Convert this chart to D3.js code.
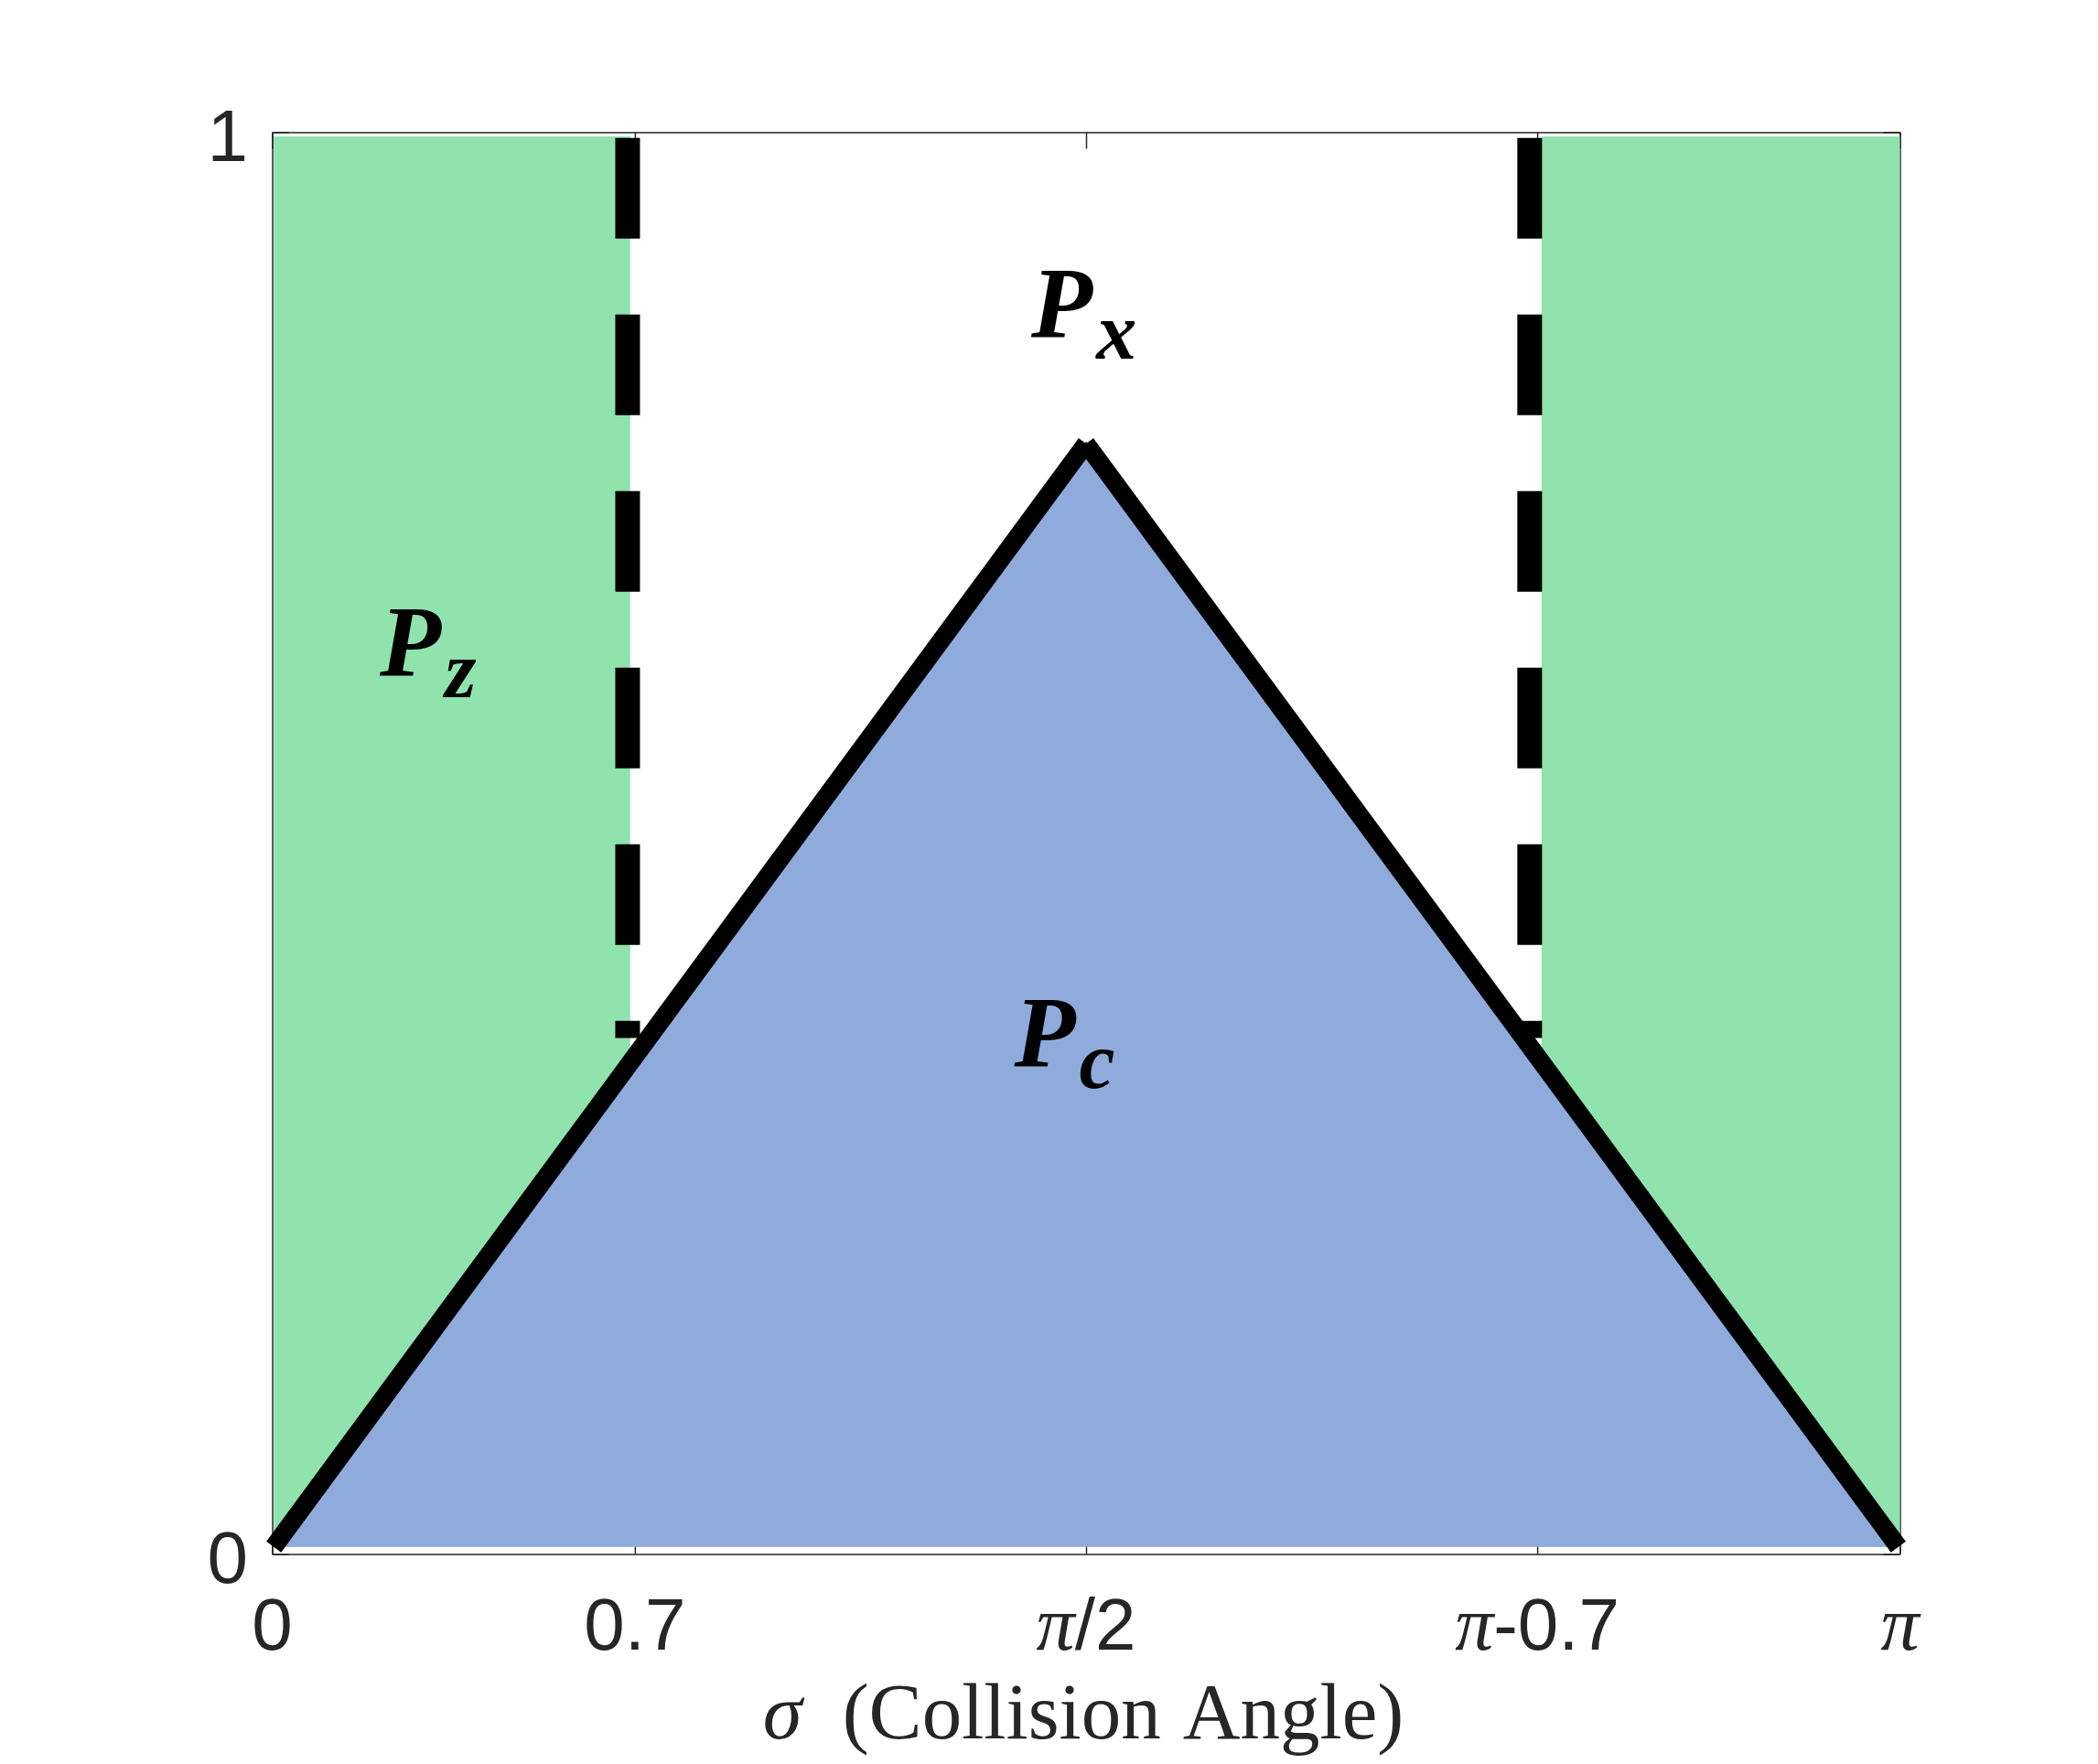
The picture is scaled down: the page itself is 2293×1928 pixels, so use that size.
<!DOCTYPE html>
<html><head><meta charset="utf-8">
<script src="https://cdn.jsdelivr.net/npm/d3@7"></script>
<style>body{margin:0;background:#fff} svg{display:block}</style>
</head><body>
<script>
const PI = Math.PI;
// ---- data ----
const xTickValues = [0, 0.7, PI / 2, PI - 0.7, PI];
const xTickLabels = ["0", "0.7", "π/2", "π-0.7", "π"];
const yTickValues = [0, 1];
const yTickLabels = ["0", "1"];
// triangle boundary (P_c region)
const triangleSigma = [0.003, PI / 2, PI - 0.003];
const triangleP = [0.005, 0.781, 0.005];
// green zones (P_z)
const zoneStart = [0.003, 2.450];
const zoneEnd = [0.691, PI];
const zoneBottom = [0.005, 0.005];
const zoneTop = [0.997, 0.997];
// dashed boundaries
const boundarySigma = [0.686, 2.427];
const boundaryTop = [0.996, 0.996];
const boundaryBottom = [0.363, 0.363];
// region labels
const regionMain = ["P", "P", "P"];
const regionSub = ["x", "z", "c"];
const regionSigma = [1.465, 0.2075, 1.432];
const regionP = [0.856, 0.618, 0.343];

// ---- chart ----
const W = 2293, H = 1928;
const svg = d3.select("body").append("svg").attr("width", W).attr("height", H);
svg.append("rect").attr("width", W).attr("height", H).attr("fill", "#fff");

const x = d3.scaleLinear().domain([0, PI]).range([297.5, 2076.5]);
const y = d3.scaleLinear().domain([0, 1]).range([1698.5, 144.5]);
const axisColor = "#262626";
const tickLen = 18;

// axes (drawn below data, like MATLAB Layer='bottom')
const axG = svg.append("g");
const bottomAxis = d3.axisBottom(x).tickValues(xTickValues).tickSizeInner(-tickLen).tickSizeOuter(0).tickFormat("");
const topAxis = d3.axisTop(x).tickValues(xTickValues).tickSizeInner(-tickLen).tickSizeOuter(0).tickFormat("");
const leftAxis = d3.axisLeft(y).tickValues(yTickValues).tickSizeInner(-tickLen).tickSizeOuter(0).tickFormat("");
const rightAxis = d3.axisRight(y).tickValues(yTickValues).tickSizeInner(-tickLen).tickSizeOuter(0).tickFormat("");
axG.append("g").attr("transform", `translate(0,${y(0)})`).call(bottomAxis);
axG.append("g").attr("transform", `translate(0,${y(1)})`).call(topAxis);
axG.append("g").attr("transform", `translate(${x(0)},0)`).call(leftAxis);
axG.append("g").attr("transform", `translate(${x(PI)},0)`).call(rightAxis);
axG.selectAll("path.domain, line").attr("stroke", axisColor).attr("stroke-width", 1.5);

// green zones
svg.append("g").selectAll("rect").data(zoneStart).join("rect")
  .attr("x", (d, i) => x(zoneStart[i]))
  .attr("width", (d, i) => x(zoneEnd[i]) - x(zoneStart[i]))
  .attr("y", (d, i) => y(zoneTop[i]))
  .attr("height", (d, i) => y(zoneBottom[i]) - y(zoneTop[i]))
  .attr("fill", "#90e3ad");

// blue triangle
const triPts = triangleSigma.map((s, i) => [s, triangleP[i]]);
svg.append("path")
  .attr("d", d3.line().x(d => x(d[0])).y(d => y(d[1]))(triPts) + "Z")
  .attr("fill", "#8fabdc");

// thin blue line underneath
svg.append("path")
  .attr("d", d3.line().x(d => x(d[0])).y(d => y(d[1]))(triPts))
  .attr("fill", "none").attr("stroke", "#0072bd").attr("stroke-width", 3)
  .attr("stroke-linejoin", "miter").attr("stroke-miterlimit", 10);

// dashed boundaries
svg.append("g").selectAll("path").data(boundarySigma).join("path")
  .attr("d", (d, i) => d3.line().x(p => x(p[0])).y(p => y(p[1]))([[d, boundaryTop[i]], [d, boundaryBottom[i]]]))
  .attr("stroke", "#000").attr("stroke-width", 27)
  .attr("stroke-dasharray", "110 83").attr("stroke-linecap", "butt");

// black triangle edges (two separate segments)
const segs = d3.pairs(triPts);
svg.append("g").selectAll("path").data(segs).join("path")
  .attr("d", d => d3.line().x(p => x(p[0])).y(p => y(p[1]))(d))
  .attr("fill", "none").attr("stroke", "#000").attr("stroke-width", 20)
  .attr("stroke-linecap", "butt");

// tick labels
const tickFont = "'Liberation Sans', Arial, Helvetica, sans-serif";
const xl = svg.append("g");
xTickValues.forEach((v, i) => {
  const t = xl.append("text").attr("x", x(v)).attr("y", 1803)
    .attr("text-anchor", "middle").attr("font-family", tickFont)
    .attr("font-size", 80).attr("fill", axisColor);
  const parts = xTickLabels[i].split(/(π)/).filter(p => p.length);
  parts.forEach(p => {
    const ts = t.append("tspan").text(p);
    if (p === "π") ts.attr("font-family", "'Liberation Serif', 'Times New Roman', serif").attr("font-style", "italic").attr("font-size", 84);
  });
});
yTickValues.forEach((v, i) => {
  svg.append("text").attr("x", 271).attr("y", y(v) + 31)
    .attr("text-anchor", "end").attr("font-family", tickFont)
    .attr("font-size", 80).attr("fill", axisColor).text(yTickLabels[i]);
});

// x axis label
const xlab = svg.append("text").attr("x", 1184).attr("y", 1900)
  .attr("text-anchor", "middle").attr("font-family", "'Liberation Serif', 'Times New Roman', serif")
  .attr("font-size", 87).attr("fill", axisColor);
xlab.append("tspan").attr("font-style", "italic").text("σ");
xlab.append("tspan").attr("dx", 44).text("(Collision");
xlab.append("tspan").attr("dx", 24).text("Angle)");

// region labels
const lab = svg.append("g");
regionMain.forEach((m, i) => {
  const t = lab.append("text").attr("x", x(regionSigma[i])).attr("y", y(regionP[i]))
    .attr("font-family", "'Liberation Serif', 'Times New Roman', serif")
    .attr("font-weight", "bold").attr("font-style", "italic").attr("fill", "#000");
  t.append("tspan").attr("font-size", 110).text(m);
  t.append("tspan").attr("font-size", 88).attr("dx", 4).attr("dy", 24).text(regionSub[i]);
});
</script>
</body></html>
